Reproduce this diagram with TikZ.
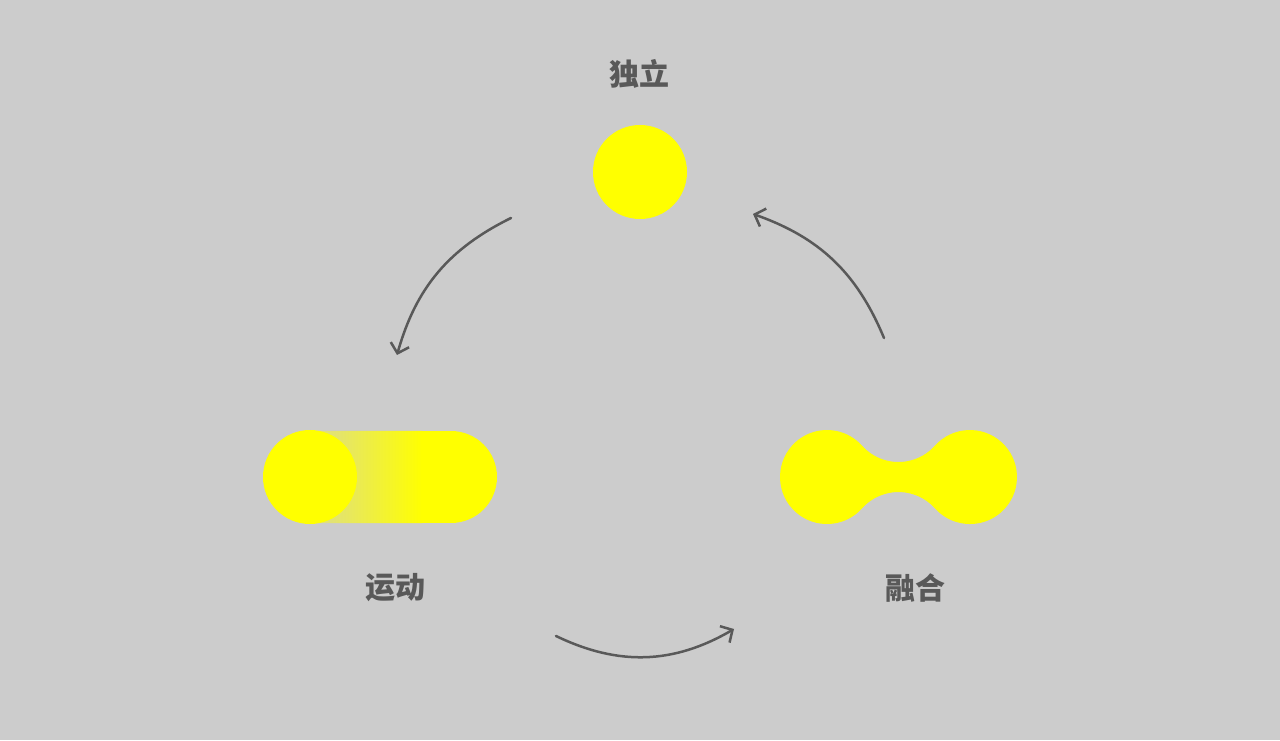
\documentclass[tikz,border=0pt]{standalone}
\usepackage{fontspec}
\newfontfamily\cjk{Noto Sans CJK SC}
\usetikzlibrary{arrows.meta}
\definecolor{bg}{HTML}{CCCCCC}
\definecolor{ink}{HTML}{595959}
\definecolor{sun}{HTML}{FFFF00}
\tikzset{
  ball/.style={circle,fill=sun,minimum size=94pt,inner sep=0pt},
  word/.style={text=ink,font=\cjk\bfseries\fontsize{30}{34}\selectfont},
  cyc/.style={->,draw=ink,line width=2.5pt,line cap=round}
}
\begin{document}
\begin{tikzpicture}[x=1pt,y=1pt,line join=round,>={Straight Barb[length=9pt,width=19pt]}]
\fill[bg](0,0) rectangle (1280,740);

% independent
\node[ball] (solo) at (640,568) {};
\node[word] (tsolo) at (639,666) {独立};

% motion
\begin{scope}
\clip(310,309)--(451,309) arc[start angle=90,end angle=-90,radius=46pt]--(310,217)--cycle;
\shade[left color=sun!35!bg,right color=sun](318,217) rectangle (422,309);
\fill[sun](421,217) rectangle (500,309);
\end{scope}
\node[ball] (move) at (310,263) {};
\node[word] (tmove) at (395,152) {运动};

% fusion
\fill[sun](862.04,294.3) arc[start angle=221.8,end angle=318.2,radius=48.9pt]
  arc[start angle=138.2,end angle=-138.2,radius=47pt]
  arc[start angle=41.8,end angle=138.2,radius=48.9pt]
  arc[start angle=-41.8,end angle=-318.2,radius=47pt]--cycle;
\coordinate (fuse) at (898.5,263);
\node[word] (tfuse) at (915,152) {融合};

% cycle arrows
\coordinate (a1) at (511,522);\coordinate (b1) at (397,385);
\coordinate (a2) at (556,104);\coordinate (b2) at (734,111);
\coordinate (a3) at (884,402);\coordinate (b3) at (753,526);
\draw[cyc](a1) to[bend right=24] (b1);
\draw[cyc](a2) to[bend right=28] (b2);
\draw[cyc](a3) to[bend right=24] (b3);
\end{tikzpicture}
\end{document}
